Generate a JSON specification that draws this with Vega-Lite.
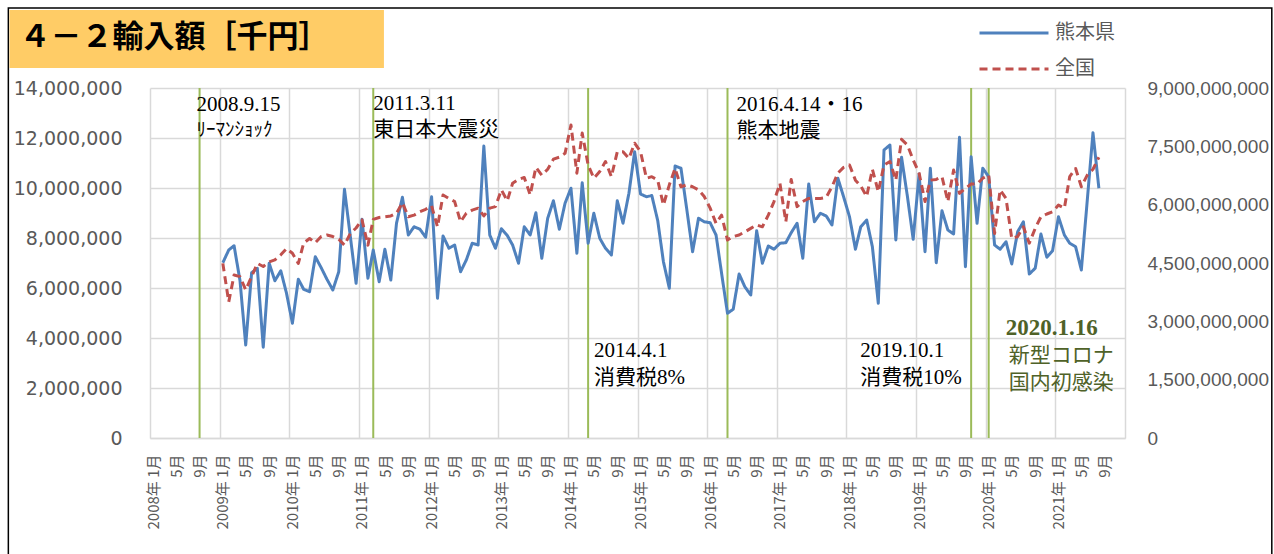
{
  "$schema": "https://vega.github.io/schema/vega-lite/v6.json",
  "width": 975,
  "height": 350,
  "autosize": {"type": "none"},
  "padding": {"left": 150, "top": 88, "right": 149, "bottom": 116},
  "background": "white",
  "config": {
    "view": {"stroke": null},
    "axisX": {
      "title": null,
      "labelAngle": -90,
      "labelAlign": "right",
      "labelBaseline": "middle",
      "labelOffset": 3,
      "labelPadding": 16,
      "labelFont": "Noto Sans CJK JP",
      "labelFontSize": 15,
      "labelColor": "#595959",
      "labelOverlap": false,
      "labelBound": false,
      "labelFlush": false,
      "ticks": false,
      "domain": true,
      "domainColor": "#D9D9D9",
      "domainWidth": 1.5,
      "grid": false
    }
  },
  "datasets": {
    "trade": [
      {"month":"2009-01","kumamoto":7010000,"zenkoku":4490000000},
      {"month":"2009-02","kumamoto":7520000,"zenkoku":3500000000},
      {"month":"2009-03","kumamoto":7690000,"zenkoku":4190000000},
      {"month":"2009-04","kumamoto":6300000,"zenkoku":4150000000},
      {"month":"2009-05","kumamoto":3720000,"zenkoku":3810000000},
      {"month":"2009-06","kumamoto":6610000,"zenkoku":4150000000},
      {"month":"2009-07","kumamoto":6790000,"zenkoku":4490000000},
      {"month":"2009-08","kumamoto":3630000,"zenkoku":4410000000},
      {"month":"2009-09","kumamoto":6990000,"zenkoku":4530000000},
      {"month":"2009-10","kumamoto":6290000,"zenkoku":4580000000},
      {"month":"2009-11","kumamoto":6690000,"zenkoku":4710000000},
      {"month":"2009-12","kumamoto":5790000,"zenkoku":4870000000},
      {"month":"2010-01","kumamoto":4590000,"zenkoku":4750000000},
      {"month":"2010-02","kumamoto":6350000,"zenkoku":4490000000},
      {"month":"2010-03","kumamoto":5950000,"zenkoku":5010000000},
      {"month":"2010-04","kumamoto":5850000,"zenkoku":5130000000},
      {"month":"2010-05","kumamoto":7250000,"zenkoku":5020000000},
      {"month":"2010-06","kumamoto":6810000,"zenkoku":5180000000},
      {"month":"2010-07","kumamoto":6350000,"zenkoku":5220000000},
      {"month":"2010-08","kumamoto":5920000,"zenkoku":5180000000},
      {"month":"2010-09","kumamoto":6650000,"zenkoku":5110000000},
      {"month":"2010-10","kumamoto":9950000,"zenkoku":4960000000},
      {"month":"2010-11","kumamoto":8050000,"zenkoku":5260000000},
      {"month":"2010-12","kumamoto":6190000,"zenkoku":5400000000},
      {"month":"2011-01","kumamoto":8750000,"zenkoku":5610000000},
      {"month":"2011-02","kumamoto":6390000,"zenkoku":4960000000},
      {"month":"2011-03","kumamoto":7520000,"zenkoku":5620000000},
      {"month":"2011-04","kumamoto":6250000,"zenkoku":5670000000},
      {"month":"2011-05","kumamoto":7550000,"zenkoku":5690000000},
      {"month":"2011-06","kumamoto":6320000,"zenkoku":5710000000},
      {"month":"2011-07","kumamoto":8590000,"zenkoku":5780000000},
      {"month":"2011-08","kumamoto":9630000,"zenkoku":6050000000},
      {"month":"2011-09","kumamoto":8120000,"zenkoku":5690000000},
      {"month":"2011-10","kumamoto":8450000,"zenkoku":5730000000},
      {"month":"2011-11","kumamoto":8350000,"zenkoku":5820000000},
      {"month":"2011-12","kumamoto":8030000,"zenkoku":5880000000},
      {"month":"2012-01","kumamoto":9650000,"zenkoku":5970000000},
      {"month":"2012-02","kumamoto":5590000,"zenkoku":5430000000},
      {"month":"2012-03","kumamoto":8080000,"zenkoku":6250000000},
      {"month":"2012-04","kumamoto":7590000,"zenkoku":6160000000},
      {"month":"2012-05","kumamoto":7720000,"zenkoku":6080000000},
      {"month":"2012-06","kumamoto":6650000,"zenkoku":5560000000},
      {"month":"2012-07","kumamoto":7120000,"zenkoku":5780000000},
      {"month":"2012-08","kumamoto":7790000,"zenkoku":5860000000},
      {"month":"2012-09","kumamoto":7720000,"zenkoku":5910000000},
      {"month":"2012-10","kumamoto":11680000,"zenkoku":5710000000},
      {"month":"2012-11","kumamoto":8120000,"zenkoku":5910000000},
      {"month":"2012-12","kumamoto":7590000,"zenkoku":5950000000},
      {"month":"2013-01","kumamoto":8370000,"zenkoku":6380000000},
      {"month":"2013-02","kumamoto":8100000,"zenkoku":6100000000},
      {"month":"2013-03","kumamoto":7720000,"zenkoku":6550000000},
      {"month":"2013-04","kumamoto":6990000,"zenkoku":6650000000},
      {"month":"2013-05","kumamoto":8450000,"zenkoku":6700000000},
      {"month":"2013-06","kumamoto":8120000,"zenkoku":6250000000},
      {"month":"2013-07","kumamoto":9010000,"zenkoku":6960000000},
      {"month":"2013-08","kumamoto":7190000,"zenkoku":6760000000},
      {"month":"2013-09","kumamoto":8790000,"zenkoku":6910000000},
      {"month":"2013-10","kumamoto":9490000,"zenkoku":7170000000},
      {"month":"2013-11","kumamoto":8350000,"zenkoku":7220000000},
      {"month":"2013-12","kumamoto":9390000,"zenkoku":7320000000},
      {"month":"2014-01","kumamoto":9990000,"zenkoku":8050000000},
      {"month":"2014-02","kumamoto":7390000,"zenkoku":6810000000},
      {"month":"2014-03","kumamoto":10210000,"zenkoku":7840000000},
      {"month":"2014-04","kumamoto":7790000,"zenkoku":7020000000},
      {"month":"2014-05","kumamoto":8990000,"zenkoku":6680000000},
      {"month":"2014-06","kumamoto":7990000,"zenkoku":6850000000},
      {"month":"2014-07","kumamoto":7590000,"zenkoku":7110000000},
      {"month":"2014-08","kumamoto":7320000,"zenkoku":6720000000},
      {"month":"2014-09","kumamoto":9490000,"zenkoku":7360000000},
      {"month":"2014-10","kumamoto":8590000,"zenkoku":7360000000},
      {"month":"2014-11","kumamoto":9790000,"zenkoku":7190000000},
      {"month":"2014-12","kumamoto":11450000,"zenkoku":7580000000},
      {"month":"2015-01","kumamoto":9760000,"zenkoku":7360000000},
      {"month":"2015-02","kumamoto":9650000,"zenkoku":6680000000},
      {"month":"2015-03","kumamoto":9700000,"zenkoku":6720000000},
      {"month":"2015-04","kumamoto":8700000,"zenkoku":6630000000},
      {"month":"2015-05","kumamoto":7050000,"zenkoku":5990000000},
      {"month":"2015-06","kumamoto":5990000,"zenkoku":6510000000},
      {"month":"2015-07","kumamoto":10880000,"zenkoku":6930000000},
      {"month":"2015-08","kumamoto":10790000,"zenkoku":6460000000},
      {"month":"2015-09","kumamoto":9120000,"zenkoku":6510000000},
      {"month":"2015-10","kumamoto":7450000,"zenkoku":6460000000},
      {"month":"2015-11","kumamoto":8790000,"zenkoku":6380000000},
      {"month":"2015-12","kumamoto":8650000,"zenkoku":6210000000},
      {"month":"2016-01","kumamoto":8610000,"zenkoku":5910000000},
      {"month":"2016-02","kumamoto":8120000,"zenkoku":5520000000},
      {"month":"2016-03","kumamoto":6590000,"zenkoku":5730000000},
      {"month":"2016-04","kumamoto":4990000,"zenkoku":5090000000},
      {"month":"2016-05","kumamoto":5150000,"zenkoku":5180000000},
      {"month":"2016-06","kumamoto":6560000,"zenkoku":5220000000},
      {"month":"2016-07","kumamoto":6050000,"zenkoku":5300000000},
      {"month":"2016-08","kumamoto":5720000,"zenkoku":5390000000},
      {"month":"2016-09","kumamoto":8290000,"zenkoku":5480000000},
      {"month":"2016-10","kumamoto":6990000,"zenkoku":5430000000},
      {"month":"2016-11","kumamoto":7680000,"zenkoku":5730000000},
      {"month":"2016-12","kumamoto":7550000,"zenkoku":6080000000},
      {"month":"2017-01","kumamoto":7790000,"zenkoku":6550000000},
      {"month":"2017-02","kumamoto":7810000,"zenkoku":5560000000},
      {"month":"2017-03","kumamoto":8210000,"zenkoku":6650000000},
      {"month":"2017-04","kumamoto":8590000,"zenkoku":5950000000},
      {"month":"2017-05","kumamoto":7190000,"zenkoku":6080000000},
      {"month":"2017-06","kumamoto":10160000,"zenkoku":6160000000},
      {"month":"2017-07","kumamoto":8650000,"zenkoku":6160000000},
      {"month":"2017-08","kumamoto":8990000,"zenkoku":6160000000},
      {"month":"2017-09","kumamoto":8880000,"zenkoku":6190000000},
      {"month":"2017-10","kumamoto":8520000,"zenkoku":6460000000},
      {"month":"2017-11","kumamoto":10390000,"zenkoku":6810000000},
      {"month":"2017-12","kumamoto":9650000,"zenkoku":6960000000},
      {"month":"2018-01","kumamoto":8850000,"zenkoku":7020000000},
      {"month":"2018-02","kumamoto":7550000,"zenkoku":6630000000},
      {"month":"2018-03","kumamoto":8450000,"zenkoku":6480000000},
      {"month":"2018-04","kumamoto":8720000,"zenkoku":6210000000},
      {"month":"2018-05","kumamoto":7650000,"zenkoku":6910000000},
      {"month":"2018-06","kumamoto":5390000,"zenkoku":6330000000},
      {"month":"2018-07","kumamoto":11520000,"zenkoku":7020000000},
      {"month":"2018-08","kumamoto":11720000,"zenkoku":7110000000},
      {"month":"2018-09","kumamoto":7920000,"zenkoku":6630000000},
      {"month":"2018-10","kumamoto":11230000,"zenkoku":7680000000},
      {"month":"2018-11","kumamoto":9650000,"zenkoku":7530000000},
      {"month":"2018-12","kumamoto":7950000,"zenkoku":7150000000},
      {"month":"2019-01","kumamoto":10560000,"zenkoku":6810000000},
      {"month":"2019-02","kumamoto":7450000,"zenkoku":6080000000},
      {"month":"2019-03","kumamoto":10790000,"zenkoku":6630000000},
      {"month":"2019-04","kumamoto":7010000,"zenkoku":6650000000},
      {"month":"2019-05","kumamoto":9090000,"zenkoku":6720000000},
      {"month":"2019-06","kumamoto":8320000,"zenkoku":6080000000},
      {"month":"2019-07","kumamoto":8160000,"zenkoku":6890000000},
      {"month":"2019-08","kumamoto":12030000,"zenkoku":6290000000},
      {"month":"2019-09","kumamoto":6850000,"zenkoku":6420000000},
      {"month":"2019-10","kumamoto":11250000,"zenkoku":6530000000},
      {"month":"2019-11","kumamoto":8590000,"zenkoku":6530000000},
      {"month":"2019-12","kumamoto":10790000,"zenkoku":6680000000},
      {"month":"2020-01","kumamoto":10450000,"zenkoku":6760000000},
      {"month":"2020-02","kumamoto":7720000,"zenkoku":5260000000},
      {"month":"2020-03","kumamoto":7550000,"zenkoku":6380000000},
      {"month":"2020-04","kumamoto":7850000,"zenkoku":6160000000},
      {"month":"2020-05","kumamoto":6960000,"zenkoku":5130000000},
      {"month":"2020-06","kumamoto":8250000,"zenkoku":5180000000},
      {"month":"2020-07","kumamoto":8650000,"zenkoku":5430000000},
      {"month":"2020-08","kumamoto":6560000,"zenkoku":5010000000},
      {"month":"2020-09","kumamoto":6790000,"zenkoku":5390000000},
      {"month":"2020-10","kumamoto":8160000,"zenkoku":5690000000},
      {"month":"2020-11","kumamoto":7230000,"zenkoku":5760000000},
      {"month":"2020-12","kumamoto":7490000,"zenkoku":5820000000},
      {"month":"2021-01","kumamoto":8850000,"zenkoku":5990000000},
      {"month":"2021-02","kumamoto":8120000,"zenkoku":5910000000},
      {"month":"2021-03","kumamoto":7790000,"zenkoku":6720000000},
      {"month":"2021-04","kumamoto":7650000,"zenkoku":6930000000},
      {"month":"2021-05","kumamoto":6720000,"zenkoku":6460000000},
      {"month":"2021-06","kumamoto":9500000,"zenkoku":6760000000},
      {"month":"2021-07","kumamoto":12210000,"zenkoku":6910000000},
      {"month":"2021-08","kumamoto":9990000,"zenkoku":7220000000}
    ],
    "events": [
      {"date":"2008-09","event":"リーマンショック"},
      {"date":"2011-03","event":"東日本大震災"},
      {"date":"2014-04","event":"消費税8%"},
      {"date":"2016-04","event":"熊本地震"},
      {"date":"2019-10","event":"消費税10%"},
      {"date":"2020-01","event":"新型コロナ国内初感染"}
    ]
  },
  "layer": [
    {
      "layer": [
        {
          "data": {"values": [{}]},
          "mark": {"type": "rect", "fill": "transparent", "stroke": "#000000", "strokeWidth": 1.5, "clip": false},
          "encoding": {
            "x": {"datum": {"year": 2005, "month": 12, "date": 3, "utc": true}, "type": "temporal"},
            "x2": {"datum": {"year": 2024, "month": 1, "date": 25, "utc": true}},
            "y": {"datum": 17200000, "type": "quantitative"},
            "y2": {"datum": -4900000}
          }
        },
        {
          "data": {"values": [{}]},
          "mark": {"type": "rect", "fill": "#FFCC66", "clip": false},
          "encoding": {
            "x": {"datum": {"year": 2005, "month": 12, "date": 9, "utc": true}, "type": "temporal"},
            "x2": {"datum": {"year": 2011, "month": 4, "date": 26, "utc": true}},
            "y": {"datum": 17120000, "type": "quantitative"},
            "y2": {"datum": 14800000}
          }
        },
        {
          "data": {"values": [{}]},
          "mark": {"type": "text", "text": "４－２輸入額［千円］", "font": "Noto Sans CJK JP", "fontSize": 31, "fontWeight": "bold", "color": "#000000", "align": "left", "baseline": "middle", "dx": 10, "dy": -1, "clip": false},
          "encoding": {
            "x": {"datum": {"year": 2005, "month": 12, "date": 9, "utc": true}, "type": "temporal"},
            "y": {"datum": 15960000, "type": "quantitative"}
          }
        },
        {
          "data": {"name": "events"},
          "mark": {"type": "rule", "color": "#9BBB59", "strokeWidth": 2},
          "encoding": {
            "x": {"field": "date", "type": "temporal"}
          }
        },
        {
          "data": {"name": "trade"},
          "mark": {"type": "line", "strokeWidth": 3, "strokeJoin": "round"},
          "encoding": {
            "x": {
              "field": "month",
              "type": "temporal",
              "scale": {
                "type": "utc",
                "nice": false,
                "domain": [
                  {"year": 2007, "month": 12, "date": 16, "utc": true},
                  {"year": 2021, "month": 12, "date": 16, "utc": true}
                ]
              },
              "axis": {
                "tickCount": 60,
                "values": [
                  {"year":2007,"month":12,"date":16,"utc":true},
                  {"year":2008,"month":4,"date":16,"utc":true},{"year":2008,"month":8,"date":16,"utc":true},{"year":2008,"month":12,"date":16,"utc":true},
                  {"year":2009,"month":4,"date":16,"utc":true},{"year":2009,"month":8,"date":16,"utc":true},{"year":2009,"month":12,"date":16,"utc":true},
                  {"year":2010,"month":4,"date":16,"utc":true},{"year":2010,"month":8,"date":16,"utc":true},{"year":2010,"month":12,"date":16,"utc":true},
                  {"year":2011,"month":4,"date":16,"utc":true},{"year":2011,"month":8,"date":16,"utc":true},{"year":2011,"month":12,"date":16,"utc":true},
                  {"year":2012,"month":4,"date":16,"utc":true},{"year":2012,"month":8,"date":16,"utc":true},{"year":2012,"month":12,"date":16,"utc":true},
                  {"year":2013,"month":4,"date":16,"utc":true},{"year":2013,"month":8,"date":16,"utc":true},{"year":2013,"month":12,"date":16,"utc":true},
                  {"year":2014,"month":4,"date":16,"utc":true},{"year":2014,"month":8,"date":16,"utc":true},{"year":2014,"month":12,"date":16,"utc":true},
                  {"year":2015,"month":4,"date":16,"utc":true},{"year":2015,"month":8,"date":16,"utc":true},{"year":2015,"month":12,"date":16,"utc":true},
                  {"year":2016,"month":4,"date":16,"utc":true},{"year":2016,"month":8,"date":16,"utc":true},{"year":2016,"month":12,"date":16,"utc":true},
                  {"year":2017,"month":4,"date":16,"utc":true},{"year":2017,"month":8,"date":16,"utc":true},{"year":2017,"month":12,"date":16,"utc":true},
                  {"year":2018,"month":4,"date":16,"utc":true},{"year":2018,"month":8,"date":16,"utc":true},{"year":2018,"month":12,"date":16,"utc":true},
                  {"year":2019,"month":4,"date":16,"utc":true},{"year":2019,"month":8,"date":16,"utc":true},{"year":2019,"month":12,"date":16,"utc":true},
                  {"year":2020,"month":4,"date":16,"utc":true},{"year":2020,"month":8,"date":16,"utc":true},{"year":2020,"month":12,"date":16,"utc":true},
                  {"year":2021,"month":4,"date":16,"utc":true},{"year":2021,"month":8,"date":16,"utc":true}
                ],
                "labelExpr": "utcmonth(toNumber(datum.value) + 1468800000) == 0 ? utcFormat(toNumber(datum.value) + 1468800000, '%Y年 %-m月') : utcFormat(toNumber(datum.value) + 1468800000, '%-m月')",
                "labelOverlap": false,
                "labelSeparation": 0,
                "grid": false
              }
            },
            "y": {
              "field": "kumamoto",
              "type": "quantitative",
              "scale": {"domain": [0, 14000000], "nice": false},
              "axis": {
                "title": null,
                "values": [0, 2000000, 4000000, 6000000, 8000000, 10000000, 12000000, 14000000],
                "format": ",d",
                "grid": true,
                "gridColor": "#D9D9D9",
                "gridWidth": 1.5,
                "domain": false,
                "ticks": false,
                "labelPadding": 28,
                "labelFont": "DejaVu Sans",
                "labelFontSize": 19,
                "labelColor": "#595959"
              }
            },
            "color": {
              "datum": "熊本県",
              "scale": {"domain": ["熊本県", "全国"], "range": ["#4F81BD", "#C0504D"]},
              "legend": {
                "title": null,
                "orient": "none",
                "legendX": 851,
                "legendY": -68,
                "symbolType": "M-3,0H3",
                "symbolSize": 529,
                "symbolStrokeWidth": 3,
                "labelFont": "Noto Sans CJK JP",
                "labelFontSize": 20,
                "labelColor": "#595959",
                "labelOffset": 28,
                "rowPadding": 13
              }
            },
            "strokeDash": {
              "datum": "熊本県",
              "scale": {"domain": ["熊本県", "全国"], "range": [[1, 0], [8, 5]]},
              "legend": {
                "title": null,
                "orient": "none",
                "legendX": 851,
                "legendY": -68,
                "symbolType": "M-3,0H3",
                "symbolSize": 529,
                "symbolStrokeWidth": 3,
                "labelFont": "Noto Sans CJK JP",
                "labelFontSize": 20,
                "labelColor": "#595959",
                "labelOffset": 28,
                "rowPadding": 13
              }
            }
          }
        },
        {
          "data": {"values": [{}]},
          "mark": {"type": "text", "text": "2008.9.15", "font": "Liberation Serif, Noto Sans CJK JP", "fontSize": 21, "color": "#000000", "align": "left", "baseline": "alphabetic", "dx": -3},
          "encoding": {
            "x": {"datum": {"year": 2008, "month": 9, "date": 1, "utc": true}, "type": "temporal"},
            "y": {"datum": 13080000, "type": "quantitative"}
          }
        },
        {
          "data": {"values": [{}]},
          "mark": {"type": "text", "text": "ﾘｰﾏﾝｼｮｯｸ", "font": "Noto Sans CJK JP", "fontSize": 19, "color": "#000000", "align": "left", "baseline": "alphabetic", "dx": -3},
          "encoding": {
            "x": {"datum": {"year": 2008, "month": 9, "date": 1, "utc": true}, "type": "temporal"},
            "y": {"datum": 12080000, "type": "quantitative"}
          }
        },
        {
          "data": {"values": [{}]},
          "mark": {"type": "text", "text": ["2011.3.11", "東日本大震災"], "font": "Liberation Serif, Noto Sans CJK JP", "fontSize": 21, "lineHeight": 26, "color": "#000000", "align": "left", "baseline": "alphabetic", "dx": 0},
          "encoding": {
            "x": {"datum": {"year": 2011, "month": 3, "date": 1, "utc": true}, "type": "temporal"},
            "y": {"datum": 13120000, "type": "quantitative"}
          }
        },
        {
          "data": {"values": [{}]},
          "mark": {"type": "text", "text": ["2014.4.1", "消費税8%"], "font": "Liberation Serif, Noto Sans CJK JP", "fontSize": 21, "lineHeight": 27, "color": "#000000", "align": "left", "baseline": "alphabetic", "dx": 6},
          "encoding": {
            "x": {"datum": {"year": 2014, "month": 4, "date": 1, "utc": true}, "type": "temporal"},
            "y": {"datum": 3240000, "type": "quantitative"}
          }
        },
        {
          "data": {"values": [{}]},
          "mark": {"type": "text", "text": ["2016.4.14・16", "熊本地震"], "font": "Liberation Serif, Noto Sans CJK JP", "fontSize": 21, "lineHeight": 26, "color": "#000000", "align": "left", "baseline": "alphabetic", "dx": 9},
          "encoding": {
            "x": {"datum": {"year": 2016, "month": 4, "date": 1, "utc": true}, "type": "temporal"},
            "y": {"datum": 13080000, "type": "quantitative"}
          }
        },
        {
          "data": {"values": [{}]},
          "mark": {"type": "text", "text": ["2019.10.1", "消費税10%"], "font": "Liberation Serif, Noto Sans CJK JP", "fontSize": 21, "lineHeight": 27, "color": "#000000", "align": "left", "baseline": "alphabetic", "dx": -111},
          "encoding": {
            "x": {"datum": {"year": 2019, "month": 10, "date": 1, "utc": true}, "type": "temporal"},
            "y": {"datum": 3240000, "type": "quantitative"}
          }
        },
        {
          "data": {"values": [{}]},
          "mark": {"type": "text", "text": "2020.1.16", "font": "Liberation Serif", "fontSize": 23, "fontWeight": "bold", "color": "#4F6228", "align": "left", "baseline": "alphabetic", "dx": 17},
          "encoding": {
            "x": {"datum": {"year": 2020, "month": 1, "date": 1, "utc": true}, "type": "temporal"},
            "y": {"datum": 4120000, "type": "quantitative"}
          }
        },
        {
          "data": {"values": [{}]},
          "mark": {"type": "text", "text": ["新型コロナ", "国内初感染"], "font": "Noto Sans CJK JP", "fontSize": 21, "lineHeight": 27, "color": "#4F6228", "align": "left", "baseline": "alphabetic", "dx": 20},
          "encoding": {
            "x": {"datum": {"year": 2020, "month": 1, "date": 1, "utc": true}, "type": "temporal"},
            "y": {"datum": 3040000, "type": "quantitative"}
          }
        }
      ]
    },
    {
      "data": {"name": "trade"},
      "mark": {"type": "line", "strokeWidth": 3, "strokeJoin": "round"},
      "encoding": {
        "x": {
          "field": "month",
          "type": "temporal",
          "axis": {
            "tickCount": 60,
            "values": [
              {"year":2007,"month":12,"date":16,"utc":true},{"year":2008,"month":12,"date":16,"utc":true},{"year":2009,"month":12,"date":16,"utc":true},
              {"year":2010,"month":12,"date":16,"utc":true},{"year":2011,"month":12,"date":16,"utc":true},{"year":2012,"month":12,"date":16,"utc":true},
              {"year":2013,"month":12,"date":16,"utc":true},{"year":2014,"month":12,"date":16,"utc":true},{"year":2015,"month":12,"date":16,"utc":true},
              {"year":2016,"month":12,"date":16,"utc":true},{"year":2017,"month":12,"date":16,"utc":true},{"year":2018,"month":12,"date":16,"utc":true},
              {"year":2019,"month":12,"date":16,"utc":true},{"year":2020,"month":12,"date":16,"utc":true},{"year":2021,"month":12,"date":16,"utc":true}
            ],
            "labels": false,
            "ticks": false,
            "domain": false,
            "grid": true,
            "gridColor": "#D9D9D9",
            "gridWidth": 1.5
          }
        },
        "y": {
          "field": "zenkoku",
          "type": "quantitative",
          "scale": {"domain": [0, 9000000000], "nice": false},
          "axis": {
            "orient": "right",
            "title": null,
            "values": [0, 1500000000, 3000000000, 4500000000, 6000000000, 7500000000, 9000000000],
            "format": ",d",
            "grid": false,
            "domain": false,
            "ticks": false,
            "labelPadding": 22,
            "labelFont": "Liberation Sans",
            "labelFontSize": 19,
            "labelColor": "#595959"
          }
        },
        "color": {"datum": "全国", "scale": {"domain": ["熊本県", "全国"], "range": ["#4F81BD", "#C0504D"]}},
        "strokeDash": {"datum": "全国", "scale": {"domain": ["熊本県", "全国"], "range": [[1, 0], [8, 5]]}}
      }
    }
  ],
  "resolve": {"scale": {"y": "independent"}, "axis": {"x": "independent"}}
}
